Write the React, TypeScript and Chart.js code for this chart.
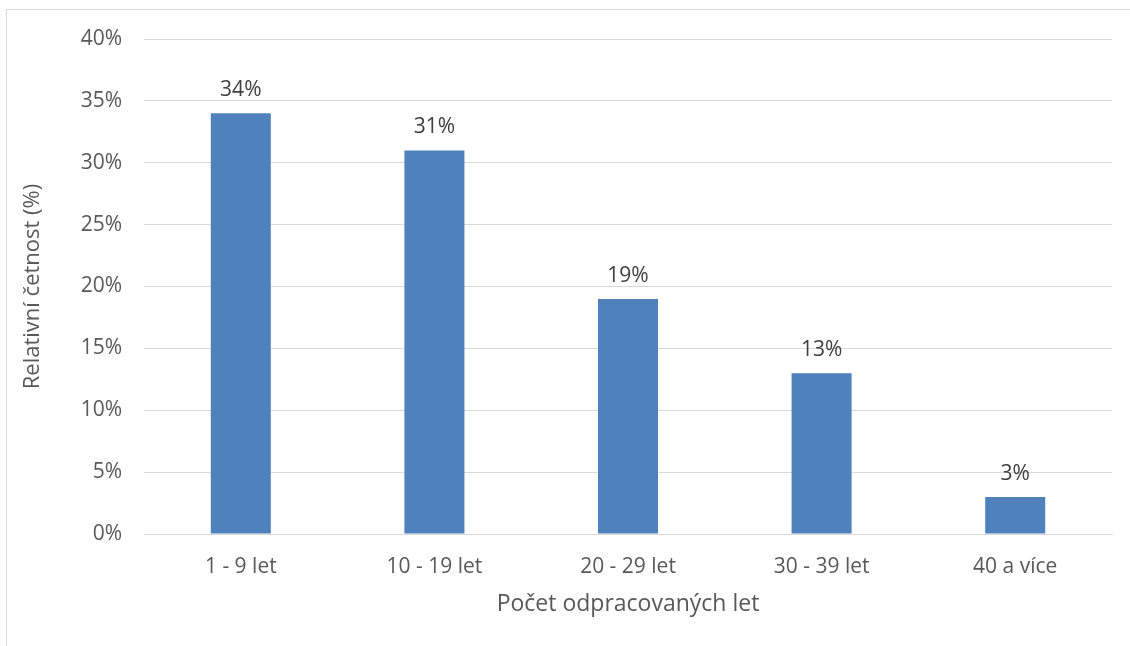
import React, { useEffect, useRef } from "react";
import { Chart, registerables } from "chart.js";

Chart.register(...registerables);

const categories = ["1 - 9 let", "10 - 19 let", "20 - 29 let", "30 - 39 let", "40 a více"];
const values = [34, 31, 19, 13, 3];
const yTitle = "Relativní četnost (%)";
const xTitle = "Počet odpracovaných let";

const FONT = "'Open Sans', 'Liberation Sans', sans-serif";

const labelPlugin = {
  id: "barLabels",
  afterDatasetsDraw(chart: any) {
    const ctx = chart.ctx;
    const meta = chart.getDatasetMeta(0);
    ctx.save();
    ctx.font = `21px ${FONT}`;
    ctx.fillStyle = "#404040";
    ctx.textAlign = "center";
    ctx.textBaseline = "alphabetic";
    meta.data.forEach((el: any, i: number) => {
      ctx.fillText(values[i] + "%", el.x, el.y - 17);
    });
    ctx.restore();
  },
};

export default function App() {
  const ref = useRef<HTMLCanvasElement | null>(null);
  useEffect(() => {
    if (!ref.current) return;
    const chart = new Chart(ref.current, {
      type: "bar",
      data: {
        labels: categories,
        datasets: [
          {
            data: values,
            backgroundColor: "#4f81bd",
            categoryPercentage: 1,
            barPercentage: 0.31,
          },
        ],
      },
      plugins: [labelPlugin],
      options: {
        animation: false,
        responsive: false,
        maintainAspectRatio: false,
        layout: { padding: { top: 39, right: 18, bottom: 0, left: 0 } },
        plugins: { legend: { display: false }, tooltip: { enabled: false } },
        scales: {
          x: {
            grid: { display: false, drawTicks: false },
            border: { display: true, color: "#d9d9d9", width: 1 },
            ticks: { color: "#595959", font: { family: FONT, size: 21 }, padding: 20, maxRotation: 0 },
            title: {
              display: true,
              text: xTitle,
              color: "#595959",
              font: { family: FONT, size: 23 },
              padding: { top: 0, bottom: 28 },
            },
            afterFit: (s: any) => {
              s.height = 112;
            },
          },
          y: {
            min: 0,
            max: 40,
            ticks: {
              stepSize: 5,
              color: "#595959",
              font: { family: FONT, size: 21 },
              padding: 22,
              callback: (v: any) => v + "%",
            },
            grid: { color: "#d9d9d9", lineWidth: 1, drawTicks: false },
            border: { display: false },
            title: {
              display: true,
              text: yTitle,
              color: "#595959",
              font: { family: FONT, size: 22 },
              padding: { top: 20, bottom: 0 },
            },
            afterFit: (s: any) => {
              s.width = 144;
            },
          },
        },
      },
    });
    return () => chart.destroy();
  }, []);
  return (
    <div style={{ position: "fixed", left: 0, top: 0, width: 1130, height: 646, overflow: "hidden", background: "#fff" }}>
      <div style={{ position: "absolute", left: 6, top: 9, width: 1200, height: 700, border: "1px solid #d9d9d9" }} />
      <canvas ref={ref} width={1130} height={646} style={{ position: "absolute", left: 0, top: 0 }} />
    </div>
  );
}
